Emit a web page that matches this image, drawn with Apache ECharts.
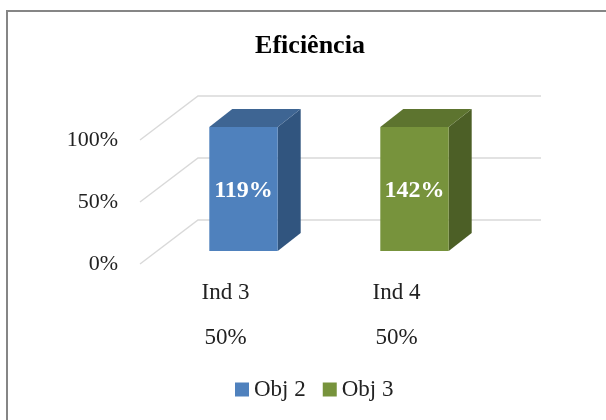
<!DOCTYPE html>
<html>
<head>
<meta charset="utf-8">
<style>
  html, body { margin: 0; padding: 0; background: #fff; }
  #chart { width: 606px; height: 420px; }
</style>
<script src="https://cdn.jsdelivr.net/npm/echarts@6/dist/echarts.min.js"></script>
</head>
<body>
<div id="chart"></div>
<script>
const categories = ['Ind 3', 'Ind 4'];
const shareLabels = ['50%', '50%'];
const obj2Values = [119, null];
const obj3Values = [null, 142];
const yTicks = [0, 50, 100];
const seriesNames = ['Obj 2', 'Obj 3'];

const FONT = '"Liberation Serif", serif';
const AXIS_MAX = 100;
const AXIS_INTERVAL = 50;

// Oblique projection of the floor and of each column
const FLOOR_DEPTH = [58, -44];
const WALL_OVERHANG = 1;
const COLUMN_SHIFT = [18, -13];
const COLUMN_DEPTH = [23, -18];
const COLUMN_WIDTH_RATIO = 0.4;

const palette = {
  'Obj 2': { front: '#4f81bd', top: '#3e6593', side: '#31557f' },
  'Obj 3': { front: '#77933c', top: '#5d742f', side: '#4c5f26' }
};

// Back-wall gridline with its slanted run along the side wall
function renderGridline(params, api) {
  const y = api.coord([0, api.value(1)])[1];
  const box = params.coordSys;
  const backY = y + FLOOR_DEPTH[1];
  return {
    type: 'polyline',
    silent: true,
    shape: {
      points: [
        [box.x, y],
        [box.x + FLOOR_DEPTH[0], backY],
        [box.x + box.width + FLOOR_DEPTH[0] + WALL_OVERHANG, backY]
      ]
    },
    style: { fill: null, stroke: '#d9d9d9', lineWidth: 1.4 }
  };
}

// Column drawn as three faces; height stops at the axis maximum
function columnRenderer(name) {
  const colors = palette[name];
  return function (params, api) {
    const cat = api.value(0);
    const value = api.value(1);
    const base = api.coord([cat, 0]);
    const head = api.coord([cat, Math.min(value, AXIS_MAX)]);
    const w = api.size([1, 0])[0] * COLUMN_WIDTH_RATIO;
    const x0 = base[0] + COLUMN_SHIFT[0] - w / 2;
    const x1 = x0 + w;
    const y0 = base[1] + COLUMN_SHIFT[1];
    const y1 = head[1] + COLUMN_SHIFT[1];
    const dx = COLUMN_DEPTH[0];
    const dy = COLUMN_DEPTH[1];
    return {
      type: 'group',
      children: [
        {
          type: 'polygon',
          shape: { points: [[x1, y0], [x1 + dx, y0 + dy], [x1 + dx, y1 + dy], [x1, y1]] },
          style: { fill: colors.side }
        },
        {
          type: 'polygon',
          shape: { points: [[x0, y1], [x1, y1], [x1 + dx, y1 + dy], [x0 + dx, y1 + dy]] },
          style: { fill: colors.top }
        },
        {
          type: 'rect',
          shape: { x: x0, y: y1, width: w, height: y0 - y1 },
          style: { fill: colors.front }
        },
        {
          type: 'text',
          style: {
            x: (x0 + x1) / 2,
            y: (y0 + y1) / 2 + 1.5,
            text: value + '%',
            fill: '#ffffff',
            font: 'bold 24px ' + FONT,
            align: 'center',
            verticalAlign: 'middle'
          }
        }
      ]
    };
  };
}

function columnData(values) {
  return values
    .map((v, i) => [i, v])
    .filter((d) => d[1] !== null);
}

const chart = echarts.init(document.getElementById('chart'), null, { renderer: 'canvas' });
chart.setOption({
  animation: false,
  backgroundColor: '#ffffff',
  title: {
    text: 'Eficiência',
    left: 305,
    top: 28,
    textAlign: 'center',
    textStyle: { fontFamily: FONT, fontWeight: 'bold', fontSize: 26, color: '#000000' }
  },
  legend: {
    data: seriesNames,
    left: 230,
    top: 373,
    icon: 'rect',
    itemWidth: 14,
    itemHeight: 14,
    itemGap: 17,
    textStyle: { fontFamily: FONT, fontSize: 23, color: '#222222' }
  },
  grid: { left: 140, right: 124, top: 140, bottom: 156 },
  xAxis: {
    type: 'category',
    data: categories,
    axisLine: { show: false },
    axisTick: { show: false },
    axisLabel: {
      margin: 6,
      interval: 0,
      fontFamily: FONT,
      fontSize: 23,
      color: '#222222',
      lineHeight: 45,
      formatter: (label, i) => label + '\n' + shareLabels[i]
    }
  },
  yAxis: {
    type: 'value',
    min: yTicks[0],
    max: AXIS_MAX,
    interval: AXIS_INTERVAL,
    splitLine: { show: false },
    axisLine: { show: false },
    axisTick: { show: false },
    axisLabel: {
      margin: 22,
      fontFamily: FONT,
      fontSize: 22,
      color: '#222222',
      formatter: '{value}%'
    }
  },
  series: [
    {
      type: 'custom',
      name: 'gridlines',
      z: 1,
      silent: true,
      renderItem: renderGridline,
      data: yTicks.map((t) => [0, t]),
      clip: false
    },
    {
      type: 'custom',
      name: seriesNames[0],
      z: 2,
      itemStyle: { color: palette['Obj 2'].front },
      renderItem: columnRenderer('Obj 2'),
      data: columnData(obj2Values),
      clip: false
    },
    {
      type: 'custom',
      name: seriesNames[1],
      z: 2,
      itemStyle: { color: palette['Obj 3'].front },
      renderItem: columnRenderer('Obj 3'),
      data: columnData(obj3Values),
      clip: false
    }
  ],
  graphic: [
    {
      type: 'rect',
      silent: true,
      z: 100,
      shape: { x: 7, y: 11, width: 700, height: 500 },
      style: { fill: null, stroke: '#868686', lineWidth: 2 }
    }
  ]
});
</script>
</body>
</html>
